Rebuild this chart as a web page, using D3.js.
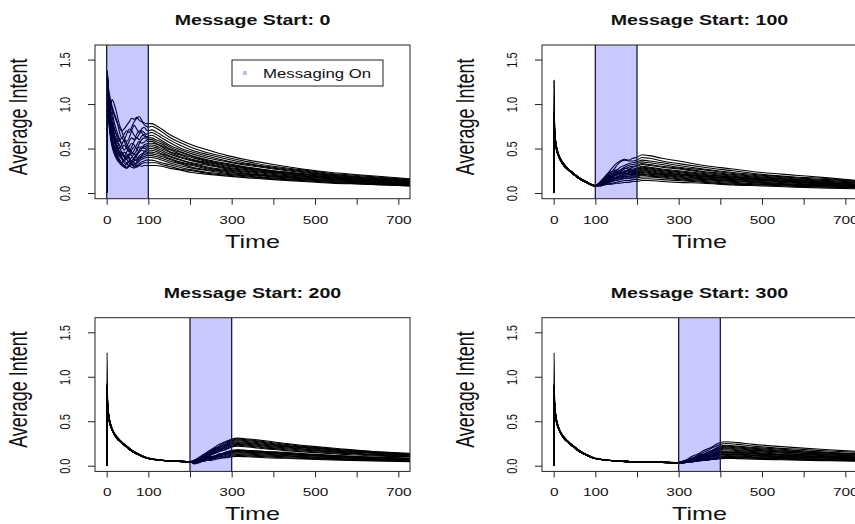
<!DOCTYPE html>
<html>
<head>
<meta charset="utf-8">
<script src="https://cdn.jsdelivr.net/npm/d3@7"></script>
<style>
  body { margin: 0; background: #fff; }
  svg { display: block; }
  text { font-family: "Liberation Sans", Arial, Helvetica, sans-serif; fill: #111; }
</style>
</head>
<body>
<svg id="chart" width="855" height="524"></svg>
<script>
// ---- data ---------------------------------------------------------------
const messageStarts = [0, 100, 200, 300];
const messageLength = 100;
const panelTitles = ["Message Start: 0", "Message Start: 100", "Message Start: 200", "Message Start: 300"];
const xTicks = [0, 100, 200, 300, 400, 500, 600, 700];
const xTickLabels = ["0", "100", "", "300", "", "500", "", "700"];
const yTicks = [0, 0.5, 1, 1.5];
const yTickLabels = ["0.0", "0.5", "1.0", "1.5"];
const xDomain = [-28, 728];
const yDomain = [-0.064, 1.664];
const xLabel = "Time";
const yLabel = "Average Intent";
const legendLabel = "Messaging On";

// Message start 0: one row per simulation run
const timesStart0 = [0,1,4,8,13,18,24,30,36,42,48,54,60,66,72,78,84,90,95,100,
  108,118,132,150,175,205,245,290,340,400,470,540,620,730];
const runsStart0 = [
  [0,1.38,1.20,1.02,0.95,0.88,0.80,0.74,0.70,0.72,0.76,0.80,0.84,0.83,0.85,0.82,0.80,0.79,0.78,0.78, 0.78,0.76,0.72,0.66,0.60,0.54,0.48,0.42,0.37,0.32,0.27,0.23,0.20,0.16],
  [0,1.36,1.15,1.05,0.98,0.90,0.82,0.70,0.62,0.66,0.70,0.68,0.74,0.80,0.84,0.86,0.82,0.77,0.75,0.74, 0.75,0.73,0.69,0.63,0.57,0.51,0.45,0.40,0.35,0.30,0.26,0.22,0.19,0.15],
  [0,1.35,1.12,0.95,1.05,1.00,0.90,0.78,0.70,0.62,0.58,0.62,0.70,0.76,0.72,0.68,0.72,0.74,0.71,0.70, 0.71,0.69,0.65,0.60,0.54,0.48,0.43,0.38,0.33,0.29,0.25,0.21,0.18,0.15],
  [0,1.33,1.05,0.88,0.80,0.72,0.66,0.60,0.56,0.60,0.66,0.72,0.70,0.65,0.62,0.66,0.70,0.68,0.66,0.67, 0.68,0.66,0.62,0.57,0.51,0.46,0.41,0.36,0.32,0.28,0.24,0.20,0.17,0.14],
  [0,1.37,1.18,1.08,0.92,0.80,0.70,0.62,0.54,0.48,0.52,0.58,0.62,0.60,0.66,0.70,0.68,0.64,0.63,0.64, 0.65,0.63,0.59,0.54,0.49,0.44,0.39,0.35,0.31,0.27,0.23,0.20,0.17,0.14],
  [0,1.30,1.00,0.82,0.70,0.64,0.60,0.55,0.50,0.54,0.50,0.46,0.52,0.58,0.62,0.60,0.64,0.66,0.63,0.62, 0.62,0.60,0.57,0.52,0.47,0.42,0.37,0.33,0.29,0.25,0.22,0.19,0.16,0.13],
  [0,1.34,1.10,0.92,0.78,0.68,0.58,0.52,0.46,0.42,0.46,0.52,0.56,0.54,0.50,0.55,0.60,0.62,0.61,0.60, 0.60,0.58,0.55,0.50,0.46,0.41,0.36,0.32,0.28,0.25,0.21,0.18,0.16,0.13],
  [0,1.32,1.08,0.98,0.86,0.74,0.64,0.58,0.62,0.58,0.52,0.48,0.44,0.48,0.54,0.58,0.56,0.57,0.59,0.58, 0.58,0.56,0.53,0.49,0.44,0.40,0.35,0.31,0.28,0.24,0.21,0.18,0.15,0.12],
  [0,1.28,0.95,0.78,0.66,0.58,0.52,0.48,0.44,0.40,0.38,0.42,0.48,0.52,0.50,0.46,0.50,0.54,0.55,0.56, 0.56,0.55,0.52,0.47,0.43,0.38,0.34,0.30,0.27,0.23,0.20,0.17,0.15,0.12],
  [0,1.35,1.14,0.90,0.74,0.62,0.54,0.50,0.54,0.60,0.56,0.50,0.46,0.44,0.48,0.52,0.50,0.52,0.53,0.54, 0.54,0.53,0.50,0.46,0.41,0.37,0.33,0.29,0.26,0.23,0.19,0.17,0.14,0.11],
  [0,1.31,1.02,0.84,0.70,0.60,0.52,0.46,0.42,0.46,0.44,0.40,0.36,0.40,0.44,0.48,0.52,0.50,0.51,0.52, 0.52,0.51,0.48,0.44,0.40,0.36,0.32,0.28,0.25,0.22,0.19,0.16,0.14,0.11],
  [0,1.29,0.98,0.76,0.62,0.54,0.48,0.44,0.40,0.36,0.40,0.44,0.42,0.38,0.42,0.46,0.48,0.47,0.49,0.50, 0.50,0.49,0.46,0.42,0.38,0.34,0.31,0.27,0.24,0.21,0.18,0.16,0.13,0.11],
  [0,1.33,1.06,0.86,0.72,0.60,0.50,0.42,0.38,0.34,0.32,0.36,0.40,0.44,0.40,0.38,0.42,0.46,0.47,0.48, 0.48,0.47,0.44,0.41,0.37,0.33,0.29,0.26,0.23,0.20,0.17,0.15,0.13,0.10],
  [0,1.27,0.92,0.72,0.58,0.50,0.46,0.42,0.46,0.42,0.38,0.34,0.32,0.36,0.38,0.42,0.44,0.45,0.45,0.46, 0.46,0.45,0.43,0.39,0.35,0.32,0.28,0.25,0.22,0.19,0.17,0.14,0.12,0.10],
  [0,1.36,1.12,0.94,0.80,0.66,0.54,0.46,0.40,0.36,0.34,0.30,0.34,0.38,0.36,0.40,0.42,0.43,0.44,0.44, 0.44,0.43,0.41,0.38,0.34,0.31,0.27,0.24,0.21,0.19,0.16,0.14,0.12,0.10],
  [0,1.30,0.96,0.74,0.60,0.50,0.44,0.38,0.34,0.38,0.42,0.38,0.34,0.32,0.35,0.38,0.40,0.41,0.42,0.42, 0.42,0.41,0.39,0.36,0.33,0.29,0.26,0.23,0.21,0.18,0.16,0.14,0.12,0.09],
  [0,1.26,0.90,0.68,0.56,0.48,0.42,0.36,0.32,0.30,0.34,0.36,0.32,0.30,0.33,0.36,0.38,0.39,0.40,0.40, 0.40,0.39,0.37,0.34,0.31,0.28,0.25,0.22,0.20,0.17,0.15,0.13,0.11,0.09],
  [0,1.32,1.04,0.82,0.64,0.52,0.44,0.38,0.34,0.31,0.29,0.32,0.36,0.34,0.31,0.33,0.35,0.36,0.37,0.37, 0.37,0.36,0.34,0.32,0.29,0.26,0.23,0.21,0.19,0.16,0.14,0.12,0.11,0.09],
  [0,1.28,0.94,0.70,0.54,0.46,0.40,0.36,0.33,0.30,0.28,0.30,0.32,0.30,0.29,0.31,0.33,0.34,0.34,0.34, 0.34,0.34,0.32,0.30,0.27,0.25,0.22,0.20,0.18,0.16,0.14,0.12,0.10,0.08],
  [0,1.25,0.88,0.66,0.52,0.44,0.38,0.34,0.31,0.29,0.28,0.30,0.29,0.28,0.30,0.31,0.30,0.31,0.31,0.31, 0.31,0.31,0.30,0.28,0.26,0.23,0.21,0.19,0.17,0.15,0.13,0.11,0.10,0.08]
];

// Message start 100
const timesStart100 = [0,1,2,4,7,11,16,24,35,48,62,78,100,
  110,120,130,140,150,160,170,180,190,200,
  212,230,260,300,360,430,500,580,660,730];
const runsStart100 = [
  [0,1.27,0.80,0.62,0.52,0.45,0.39,0.33,0.27,0.22,0.17,0.13,0.085, 0.11,0.16,0.22,0.28,0.33,0.36,0.38,0.37,0.39,0.40, 0.43,0.42,0.39,0.36,0.31,0.27,0.23,0.20,0.17,0.14],
  [0,0.92,0.74,0.61,0.51,0.44,0.38,0.32,0.27,0.22,0.17,0.13,0.08, 0.10,0.13,0.18,0.24,0.30,0.35,0.37,0.36,0.36,0.37, 0.40,0.39,0.36,0.33,0.29,0.25,0.21,0.18,0.16,0.13],
  [0,0.90,0.72,0.60,0.50,0.43,0.38,0.32,0.26,0.21,0.16,0.12,0.08, 0.09,0.12,0.16,0.21,0.25,0.29,0.31,0.33,0.34,0.35, 0.37,0.36,0.34,0.31,0.27,0.23,0.20,0.17,0.15,0.13],
  [0,1.27,0.82,0.63,0.52,0.44,0.39,0.33,0.27,0.22,0.17,0.12,0.08, 0.12,0.17,0.22,0.24,0.23,0.26,0.29,0.31,0.32,0.33, 0.35,0.34,0.32,0.29,0.26,0.22,0.19,0.16,0.14,0.12],
  [0,0.88,0.70,0.59,0.50,0.43,0.37,0.32,0.26,0.21,0.16,0.12,0.08, 0.09,0.14,0.20,0.24,0.26,0.25,0.27,0.29,0.30,0.31, 0.33,0.32,0.30,0.28,0.24,0.21,0.18,0.15,0.13,0.11],
  [0,0.70,0.62,0.57,0.49,0.43,0.37,0.31,0.26,0.21,0.16,0.12,0.08, 0.10,0.12,0.15,0.19,0.22,0.26,0.28,0.27,0.29,0.30, 0.32,0.31,0.29,0.27,0.23,0.20,0.17,0.15,0.13,0.11],
  [0,0.91,0.73,0.61,0.51,0.44,0.38,0.33,0.27,0.22,0.17,0.13,0.085, 0.11,0.15,0.18,0.21,0.24,0.23,0.24,0.26,0.27,0.28, 0.30,0.29,0.27,0.25,0.22,0.19,0.16,0.14,0.12,0.10],
  [0,0.60,0.58,0.55,0.48,0.42,0.37,0.31,0.26,0.21,0.16,0.12,0.08, 0.09,0.11,0.14,0.18,0.21,0.24,0.25,0.26,0.26,0.27, 0.29,0.28,0.26,0.24,0.21,0.18,0.16,0.13,0.11,0.10],
  [0,0.89,0.71,0.60,0.50,0.43,0.38,0.32,0.26,0.21,0.16,0.12,0.08, 0.10,0.14,0.19,0.22,0.21,0.22,0.24,0.25,0.25,0.26, 0.28,0.27,0.25,0.23,0.20,0.18,0.15,0.13,0.11,0.09],
  [0,0.52,0.55,0.54,0.48,0.42,0.37,0.31,0.26,0.21,0.16,0.12,0.08, 0.09,0.12,0.15,0.17,0.20,0.22,0.23,0.24,0.24,0.25, 0.27,0.26,0.24,0.22,0.19,0.17,0.15,0.13,0.11,0.09],
  [0,0.90,0.72,0.60,0.51,0.44,0.38,0.32,0.27,0.22,0.16,0.12,0.08, 0.10,0.13,0.17,0.20,0.22,0.23,0.22,0.23,0.24,0.24, 0.26,0.25,0.23,0.21,0.19,0.16,0.14,0.12,0.10,0.09],
  [0,0.65,0.60,0.56,0.49,0.43,0.37,0.32,0.26,0.21,0.16,0.12,0.08, 0.09,0.11,0.13,0.16,0.18,0.20,0.21,0.22,0.23,0.23, 0.25,0.24,0.22,0.21,0.18,0.16,0.14,0.12,0.10,0.08],
  [0,0.93,0.75,0.61,0.51,0.44,0.38,0.33,0.27,0.22,0.17,0.12,0.085, 0.11,0.14,0.17,0.19,0.20,0.21,0.22,0.21,0.22,0.22, 0.24,0.23,0.21,0.20,0.17,0.15,0.13,0.11,0.09,0.08],
  [0,0.55,0.56,0.55,0.48,0.42,0.37,0.31,0.26,0.21,0.16,0.12,0.08, 0.09,0.10,0.12,0.15,0.17,0.19,0.20,0.21,0.21,0.21, 0.23,0.22,0.21,0.19,0.16,0.14,0.12,0.10,0.09,0.08],
  [0,0.87,0.70,0.59,0.50,0.43,0.37,0.32,0.26,0.21,0.16,0.12,0.08, 0.10,0.12,0.14,0.16,0.17,0.18,0.19,0.19,0.20,0.20, 0.22,0.21,0.20,0.18,0.16,0.14,0.12,0.10,0.09,0.07],
  [0,0.75,0.65,0.58,0.49,0.43,0.38,0.32,0.26,0.21,0.16,0.12,0.08, 0.09,0.11,0.13,0.14,0.16,0.17,0.18,0.19,0.19,0.19, 0.21,0.20,0.19,0.17,0.15,0.13,0.11,0.09,0.08,0.07],
  [0,0.91,0.73,0.60,0.51,0.44,0.38,0.32,0.27,0.22,0.17,0.12,0.08, 0.09,0.10,0.12,0.13,0.15,0.16,0.17,0.17,0.18,0.18, 0.20,0.19,0.18,0.16,0.14,0.12,0.10,0.09,0.08,0.065],
  [0,0.58,0.57,0.55,0.48,0.42,0.37,0.31,0.26,0.21,0.16,0.12,0.08, 0.09,0.10,0.11,0.13,0.14,0.15,0.16,0.16,0.17,0.17, 0.18,0.18,0.17,0.15,0.13,0.11,0.10,0.085,0.07,0.06],
  [0,0.89,0.71,0.60,0.50,0.43,0.37,0.32,0.26,0.21,0.16,0.12,0.08, 0.08,0.09,0.10,0.11,0.12,0.13,0.14,0.14,0.15,0.15, 0.16,0.16,0.15,0.14,0.12,0.10,0.09,0.075,0.065,0.055],
  [0,0.68,0.62,0.57,0.49,0.43,0.37,0.31,0.26,0.21,0.16,0.12,0.08, 0.08,0.09,0.10,0.10,0.11,0.11,0.12,0.12,0.13,0.13, 0.14,0.14,0.13,0.12,0.11,0.09,0.08,0.065,0.055,0.048]
];

// Message start 200
const timesStart200 = [0,1,2,4,7,11,16,24,35,48,62,78,100,130,160,200,
  210,220,230,240,250,260,270,280,290,300,
  315,340,380,430,490,560,640,730];
const runsStart200 = [
  [0,1.27,0.81,0.62,0.52,0.45,0.39,0.33,0.27,0.22,0.17,0.13,0.085,0.064,0.053,0.046, 0.06,0.09,0.12,0.15,0.18,0.21,0.24,0.26,0.28,0.30, 0.31,0.30,0.28,0.25,0.22,0.19,0.16,0.14],
  [0,0.91,0.73,0.61,0.51,0.44,0.38,0.32,0.27,0.22,0.17,0.12,0.08,0.062,0.052,0.045, 0.05,0.07,0.10,0.13,0.17,0.20,0.22,0.25,0.27,0.29, 0.30,0.29,0.27,0.24,0.21,0.18,0.16,0.13],
  [0,0.70,0.63,0.57,0.49,0.43,0.38,0.32,0.26,0.21,0.16,0.12,0.08,0.061,0.051,0.044, 0.04,0.06,0.09,0.13,0.16,0.19,0.21,0.23,0.26,0.28, 0.29,0.28,0.26,0.23,0.20,0.18,0.15,0.13],
  [0,0.89,0.71,0.60,0.50,0.43,0.38,0.32,0.26,0.21,0.16,0.12,0.08,0.062,0.052,0.045, 0.06,0.08,0.11,0.14,0.16,0.18,0.21,0.23,0.25,0.27, 0.28,0.27,0.25,0.22,0.20,0.17,0.15,0.12],
  [0,0.55,0.56,0.55,0.48,0.42,0.37,0.31,0.26,0.21,0.16,0.12,0.08,0.061,0.051,0.044, 0.03,0.05,0.08,0.11,0.14,0.17,0.20,0.22,0.24,0.26, 0.27,0.26,0.24,0.22,0.19,0.16,0.14,0.12],
  [0,0.92,0.74,0.61,0.51,0.44,0.38,0.33,0.27,0.22,0.17,0.12,0.085,0.063,0.053,0.046, 0.05,0.08,0.10,0.12,0.15,0.17,0.19,0.21,0.23,0.25, 0.26,0.25,0.23,0.21,0.18,0.16,0.14,0.12],
  [0,0.62,0.59,0.56,0.49,0.43,0.37,0.32,0.26,0.21,0.16,0.12,0.08,0.062,0.052,0.045, 0.04,0.06,0.08,0.11,0.14,0.16,0.18,0.20,0.22,0.24, 0.25,0.24,0.22,0.20,0.18,0.15,0.13,0.11],
  [0,0.88,0.70,0.59,0.50,0.43,0.38,0.32,0.26,0.21,0.16,0.12,0.08,0.061,0.051,0.044, 0.05,0.07,0.09,0.11,0.13,0.15,0.17,0.19,0.21,0.23, 0.24,0.23,0.21,0.19,0.17,0.15,0.12,0.11],
  [0,0.76,0.66,0.58,0.49,0.43,0.37,0.32,0.26,0.21,0.16,0.12,0.08,0.062,0.052,0.045, 0.03,0.04,0.06,0.09,0.12,0.14,0.16,0.18,0.20,0.22, 0.23,0.22,0.20,0.18,0.16,0.14,0.12,0.10],
  [0,0.90,0.72,0.60,0.51,0.44,0.38,0.32,0.27,0.22,0.17,0.12,0.08,0.062,0.052,0.045, 0.05,0.06,0.08,0.10,0.12,0.14,0.16,0.17,0.19,0.21, 0.22,0.21,0.19,0.17,0.15,0.13,0.11,0.10],
  [0,0.66,0.61,0.57,0.49,0.43,0.37,0.31,0.26,0.21,0.16,0.12,0.08,0.061,0.051,0.044, 0.04,0.06,0.07,0.09,0.10,0.11,0.13,0.14,0.16,0.17, 0.18,0.17,0.16,0.15,0.13,0.11,0.095,0.085],
  [0,0.93,0.75,0.61,0.51,0.44,0.38,0.33,0.27,0.22,0.17,0.13,0.085,0.063,0.053,0.046, 0.05,0.06,0.07,0.09,0.10,0.11,0.13,0.14,0.15,0.17, 0.175,0.17,0.16,0.14,0.125,0.11,0.095,0.08],
  [0,0.58,0.57,0.55,0.48,0.42,0.37,0.31,0.26,0.21,0.16,0.12,0.08,0.062,0.052,0.045, 0.03,0.04,0.06,0.08,0.09,0.11,0.12,0.14,0.15,0.16, 0.17,0.16,0.15,0.135,0.12,0.105,0.09,0.078],
  [0,0.89,0.71,0.60,0.50,0.43,0.38,0.32,0.26,0.21,0.16,0.12,0.08,0.061,0.051,0.044, 0.05,0.06,0.07,0.08,0.10,0.11,0.12,0.13,0.14,0.155, 0.16,0.155,0.145,0.13,0.115,0.10,0.088,0.075],
  [0,0.72,0.64,0.58,0.49,0.43,0.37,0.32,0.26,0.21,0.16,0.12,0.08,0.062,0.052,0.045, 0.04,0.05,0.06,0.08,0.09,0.10,0.12,0.13,0.14,0.15, 0.155,0.15,0.14,0.125,0.11,0.095,0.08,0.07],
  [0,0.90,0.72,0.60,0.51,0.44,0.38,0.32,0.27,0.22,0.17,0.12,0.08,0.062,0.052,0.045, 0.05,0.05,0.06,0.07,0.08,0.10,0.11,0.12,0.13,0.14, 0.145,0.14,0.13,0.115,0.10,0.09,0.075,0.065],
  [0,0.53,0.55,0.54,0.48,0.42,0.37,0.31,0.26,0.21,0.16,0.12,0.08,0.061,0.051,0.044, 0.02,0.03,0.05,0.06,0.07,0.09,0.10,0.11,0.12,0.13, 0.135,0.13,0.12,0.11,0.095,0.08,0.07,0.06],
  [0,0.91,0.73,0.60,0.51,0.44,0.38,0.32,0.27,0.22,0.17,0.12,0.08,0.062,0.052,0.045, 0.04,0.05,0.06,0.07,0.08,0.09,0.10,0.10,0.11,0.12, 0.125,0.12,0.11,0.10,0.088,0.076,0.065,0.055],
  [0,0.64,0.60,0.56,0.49,0.43,0.37,0.31,0.26,0.21,0.16,0.12,0.08,0.061,0.051,0.044, 0.03,0.04,0.05,0.06,0.07,0.08,0.09,0.09,0.10,0.11, 0.115,0.11,0.10,0.09,0.08,0.07,0.06,0.05],
  [0,0.87,0.70,0.59,0.50,0.43,0.37,0.32,0.26,0.21,0.16,0.12,0.08,0.062,0.052,0.045, 0.04,0.04,0.05,0.06,0.06,0.07,0.08,0.09,0.09,0.10, 0.105,0.10,0.09,0.083,0.073,0.063,0.054,0.046]
];

// Message start 300
const timesStart300 = [0,1,2,4,7,11,16,24,35,48,62,78,100,130,160,200,250,300,
  310,320,330,340,350,360,370,380,390,400,
  415,440,480,530,590,660,730];
const runsStart300 = [
  [0,1.27,0.81,0.62,0.52,0.45,0.39,0.33,0.27,0.22,0.17,0.13,0.085,0.064,0.053,0.046,0.040,0.036, 0.05,0.07,0.10,0.12,0.14,0.17,0.19,0.21,0.24,0.26, 0.27,0.26,0.24,0.22,0.20,0.18,0.16],
  [0,0.90,0.72,0.60,0.51,0.44,0.38,0.32,0.27,0.22,0.17,0.12,0.08,0.062,0.052,0.045,0.039,0.035, 0.04,0.06,0.08,0.10,0.13,0.15,0.17,0.20,0.22,0.24, 0.25,0.24,0.22,0.20,0.185,0.165,0.15],
  [0,0.68,0.62,0.57,0.49,0.43,0.37,0.32,0.26,0.21,0.16,0.12,0.08,0.061,0.051,0.044,0.038,0.034, 0.04,0.05,0.07,0.09,0.11,0.13,0.15,0.17,0.20,0.22, 0.23,0.22,0.205,0.19,0.17,0.15,0.135],
  [0,0.91,0.73,0.61,0.51,0.44,0.38,0.33,0.27,0.22,0.17,0.12,0.08,0.062,0.052,0.045,0.039,0.035, 0.05,0.06,0.08,0.10,0.12,0.13,0.15,0.17,0.19,0.21, 0.22,0.21,0.195,0.18,0.16,0.145,0.13],
  [0,0.57,0.57,0.55,0.48,0.42,0.37,0.31,0.26,0.21,0.16,0.12,0.08,0.062,0.052,0.045,0.039,0.035, 0.03,0.05,0.06,0.08,0.10,0.12,0.14,0.16,0.18,0.20, 0.21,0.20,0.185,0.17,0.155,0.14,0.125],
  [0,0.89,0.71,0.60,0.50,0.43,0.38,0.32,0.26,0.21,0.16,0.12,0.08,0.061,0.051,0.044,0.038,0.034, 0.04,0.06,0.08,0.09,0.11,0.12,0.14,0.16,0.17,0.19, 0.20,0.19,0.175,0.16,0.145,0.13,0.12],
  [0,0.74,0.65,0.58,0.49,0.43,0.37,0.32,0.26,0.21,0.16,0.12,0.08,0.062,0.052,0.045,0.039,0.035, 0.04,0.05,0.07,0.08,0.10,0.11,0.13,0.15,0.16,0.18, 0.19,0.18,0.17,0.155,0.14,0.125,0.11],
  [0,0.92,0.74,0.61,0.51,0.44,0.38,0.32,0.27,0.22,0.17,0.12,0.08,0.062,0.052,0.045,0.039,0.035, 0.05,0.06,0.07,0.09,0.10,0.11,0.12,0.14,0.15,0.17, 0.18,0.17,0.16,0.145,0.13,0.12,0.105],
  [0,0.61,0.59,0.56,0.49,0.43,0.37,0.31,0.26,0.21,0.16,0.12,0.08,0.061,0.051,0.044,0.038,0.034, 0.03,0.04,0.06,0.07,0.09,0.10,0.12,0.13,0.15,0.16, 0.165,0.16,0.15,0.135,0.125,0.11,0.10],
  [0,0.88,0.70,0.59,0.50,0.43,0.38,0.32,0.26,0.21,0.16,0.12,0.08,0.062,0.052,0.045,0.039,0.035, 0.04,0.05,0.06,0.08,0.09,0.10,0.11,0.12,0.14,0.15, 0.155,0.15,0.14,0.13,0.115,0.105,0.095],
  [0,0.66,0.61,0.57,0.49,0.43,0.37,0.32,0.26,0.21,0.16,0.12,0.08,0.062,0.052,0.045,0.039,0.035, 0.04,0.05,0.06,0.07,0.08,0.10,0.11,0.12,0.13,0.145, 0.15,0.145,0.135,0.125,0.11,0.10,0.09],
  [0,0.90,0.72,0.60,0.51,0.44,0.38,0.32,0.27,0.22,0.17,0.12,0.08,0.062,0.052,0.045,0.039,0.035, 0.05,0.06,0.07,0.08,0.09,0.10,0.11,0.12,0.13,0.14, 0.145,0.14,0.13,0.12,0.11,0.097,0.087],
  [0,0.54,0.55,0.54,0.48,0.42,0.37,0.31,0.26,0.21,0.16,0.12,0.08,0.061,0.051,0.044,0.038,0.034, 0.03,0.04,0.05,0.06,0.07,0.08,0.09,0.10,0.12,0.13, 0.135,0.13,0.12,0.11,0.10,0.09,0.08],
  [0,0.89,0.71,0.60,0.50,0.43,0.38,0.32,0.26,0.21,0.16,0.12,0.08,0.062,0.052,0.045,0.039,0.035, 0.04,0.05,0.06,0.07,0.08,0.09,0.10,0.11,0.12,0.125, 0.13,0.125,0.115,0.106,0.096,0.086,0.078],
  [0,0.77,0.67,0.58,0.49,0.43,0.37,0.32,0.26,0.21,0.16,0.12,0.08,0.062,0.052,0.045,0.039,0.035, 0.04,0.04,0.05,0.06,0.07,0.08,0.09,0.10,0.11,0.12, 0.125,0.12,0.11,0.10,0.092,0.083,0.074],
  [0,0.91,0.73,0.60,0.51,0.44,0.38,0.32,0.27,0.22,0.17,0.12,0.08,0.062,0.052,0.045,0.039,0.035, 0.04,0.05,0.05,0.06,0.07,0.08,0.08,0.09,0.10,0.11, 0.115,0.11,0.10,0.094,0.085,0.076,0.068],
  [0,0.59,0.58,0.55,0.48,0.42,0.37,0.31,0.26,0.21,0.16,0.12,0.08,0.061,0.051,0.044,0.038,0.034, 0.03,0.04,0.05,0.05,0.06,0.07,0.08,0.08,0.09,0.10, 0.104,0.10,0.093,0.085,0.077,0.069,0.062],
  [0,0.87,0.70,0.59,0.50,0.43,0.37,0.32,0.26,0.21,0.16,0.12,0.08,0.062,0.052,0.045,0.039,0.035, 0.04,0.04,0.05,0.05,0.06,0.07,0.07,0.08,0.09,0.095, 0.099,0.095,0.088,0.081,0.073,0.066,0.059],
  [0,0.70,0.63,0.57,0.49,0.43,0.37,0.31,0.26,0.21,0.16,0.12,0.08,0.062,0.052,0.045,0.039,0.035, 0.03,0.04,0.04,0.05,0.06,0.06,0.07,0.08,0.08,0.09, 0.094,0.09,0.084,0.077,0.069,0.062,0.056],
  [0,0.90,0.72,0.60,0.51,0.44,0.38,0.32,0.27,0.22,0.17,0.12,0.08,0.062,0.052,0.045,0.039,0.035, 0.035,0.04,0.04,0.05,0.05,0.06,0.06,0.07,0.07,0.08, 0.083,0.08,0.074,0.068,0.062,0.055,0.05]
];

// ---- layout -------------------------------------------------------------
const panels = [
  { title: panelTitles[0], start: messageStarts[0], times: timesStart0,   runs: runsStart0,   left: 95,  top: 45,    legend: true },
  { title: panelTitles[1], start: messageStarts[1], times: timesStart100, runs: runsStart100, left: 542, top: 45,    legend: false },
  { title: panelTitles[2], start: messageStarts[2], times: timesStart200, runs: runsStart200, left: 95,  top: 317.7, legend: false },
  { title: panelTitles[3], start: messageStarts[3], times: timesStart300, runs: runsStart300, left: 542, top: 317.7, legend: false }
];
const boxW = 315, boxH = 153.7;
const stretch = 1.4; // horizontal stretch applied to all text

const svg = d3.select("#chart");
const defs = svg.append("defs");

panels.forEach((p, pi) => {
  const x = d3.scaleLinear().domain(xDomain).range([0, boxW]);
  const y = d3.scaleLinear().domain(yDomain).range([boxH, 0]);
  const g = svg.append("g").attr("transform", `translate(${p.left},${p.top})`);

  defs.append("clipPath").attr("id", "clip" + pi)
    .append("rect").attr("width", boxW).attr("height", boxH);

  const plot = g.append("g").attr("clip-path", `url(#clip${pi})`);

  // simulation runs
  const line = d3.line()
    .defined((d, i) => d != null && p.times[i] != null)
    .x((d, i) => x(p.times[i]))
    .y(d => y(d))
    .curve(d3.curveMonotoneX);

  plot.selectAll("path.run").data(p.runs).join("path")
    .attr("class", "run")
    .attr("d", line)
    .attr("fill", "none")
    .attr("stroke", "#000")
    .attr("stroke-width", 1.1);

  // translucent messaging window laid over the runs
  plot.append("rect")
    .attr("x", x(p.start)).attr("y", 0)
    .attr("width", x(p.start + messageLength) - x(p.start))
    .attr("height", boxH)
    .attr("fill", "rgb(0,0,255)")
    .attr("fill-opacity", 0.21);

  [p.start, p.start + messageLength].forEach(t => {
    plot.append("line")
      .attr("x1", x(t)).attr("x2", x(t))
      .attr("y1", 0).attr("y2", boxH)
      .attr("stroke", "#1c1c3a").attr("stroke-width", 1.3);
  });

  // frame
  g.append("rect").attr("width", boxW).attr("height", boxH)
    .attr("fill", "none").attr("stroke", "#222").attr("stroke-width", 1);

  // x axis
  const xAxis = g.append("g").attr("transform", `translate(0,${boxH})`)
    .call(d3.axisBottom(x).tickValues(xTicks).tickSize(6)
      .tickFormat((d, i) => xTickLabels[i]));
  xAxis.select(".domain").remove();
  xAxis.selectAll(".tick line").attr("stroke", "#222");
  xAxis.selectAll(".tick text")
    .attr("y", 25).attr("dy", 0)
    .attr("font-size", 11)
    .attr("transform", `scale(${stretch},1)`)
    .style("font-family", '"Liberation Sans", Arial, sans-serif')
    .attr("fill", "#222");

  // y axis
  const yAxis = g.append("g")
    .call(d3.axisLeft(y).tickValues(yTicks).tickSize(7)
      .tickFormat((d, i) => yTickLabels[i]));
  yAxis.select(".domain").remove();
  yAxis.selectAll(".tick line").attr("stroke", "#222");
  yAxis.selectAll(".tick text")
    .attr("x", 0).attr("y", 0).attr("dy", "0.35em")
    .attr("text-anchor", "middle")
    .attr("font-size", 11)
    .attr("transform", `translate(-30,0) scale(${stretch},1) rotate(-90)`)
    .style("font-family", '"Liberation Sans", Arial, sans-serif')
    .attr("fill", "#222");

  // title
  g.append("text")
    .attr("transform", `translate(${boxW / 2},-20) scale(${stretch},1)`)
    .attr("text-anchor", "middle")
    .attr("font-size", 14).attr("font-weight", "bold")
    .text(p.title);

  // axis titles
  g.append("text")
    .attr("transform", `translate(${boxW / 2},${boxH + 49}) scale(${stretch},1)`)
    .attr("text-anchor", "middle")
    .attr("font-size", 18)
    .text(xLabel);

  g.append("text")
    .attr("transform", `translate(-77,${boxH / 2 - 5}) scale(${stretch},1) rotate(-90)`)
    .attr("text-anchor", "middle")
    .attr("dy", "0.35em")
    .attr("font-size", 18)
    .text(yLabel);

  if (p.legend) {
    const lg = g.append("g").attr("transform", "translate(137,15)");
    lg.append("rect").attr("width", 151).attr("height", 26)
      .attr("fill", "#fff").attr("stroke", "#222").attr("stroke-width", 1);
    lg.append("rect").attr("x", 11).attr("y", 11).attr("width", 4).attr("height", 4)
      .attr("fill", "rgb(190,190,250)");
    lg.append("text")
      .attr("transform", `translate(31,18) scale(${stretch},1)`)
      .attr("font-size", 12)
      .text(legendLabel);
  }
});
</script>
</body>
</html>
